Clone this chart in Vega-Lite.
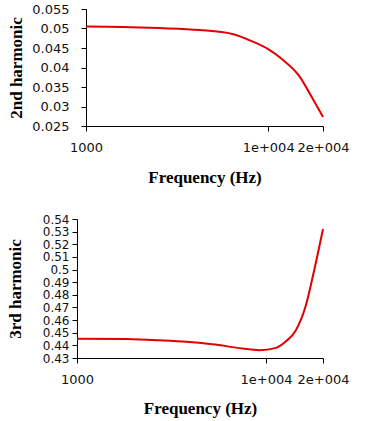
{
  "$schema": "https://vega.github.io/schema/vega-lite/v6.json",
  "padding": {"left": 6, "top": 3, "right": 10, "bottom": 5},
  "background": "white",
  "spacing": 28,
  "columns": 1,
  "align": "none",
  "bounds": "full",
  "datasets": {
    "h2": [
      {"freq": 1000, "value": 0.0505},
      {"freq": 1592, "value": 0.0504},
      {"freq": 2537, "value": 0.0501},
      {"freq": 4198, "value": 0.0496},
      {"freq": 6357, "value": 0.0486},
      {"freq": 8180, "value": 0.0467},
      {"freq": 10000, "value": 0.0447},
      {"freq": 11940, "value": 0.0421},
      {"freq": 14760, "value": 0.0379},
      {"freq": 17400, "value": 0.0323},
      {"freq": 20000, "value": 0.0273}
    ],
    "h3": [
      {"freq": 1000, "value": 0.4453},
      {"freq": 1833, "value": 0.4450},
      {"freq": 2735, "value": 0.4440},
      {"freq": 3793, "value": 0.4428},
      {"freq": 5196, "value": 0.4408},
      {"freq": 7477, "value": 0.4376},
      {"freq": 9190, "value": 0.4362},
      {"freq": 11290, "value": 0.4380},
      {"freq": 12740, "value": 0.4432},
      {"freq": 14380, "value": 0.4520},
      {"freq": 16240, "value": 0.4718},
      {"freq": 17890, "value": 0.4983},
      {"freq": 20000, "value": 0.5321}
    ]
  },
  "config": {
    "view": {"stroke": null},
    "axis": {
      "grid": false,
      "domainColor": "black",
      "tickColor": "black",
      "labelColor": "#111",
      "labelFont": "DejaVu Sans",
      "labelFontSize": 13,
      "titleFont": "Liberation Serif",
      "titleFontSize": 17,
      "titleFontWeight": "bold",
      "titleColor": "black",
      "tickSize": 5,
      "labelFlush": false,
      "labelBound": false,
      "labelOverlap": false
    }
  },
  "concat": [
    {
      "width": 237,
      "height": 117,
      "data": {"name": "h2"},
      "mark": {"type": "line", "color": "#e00000", "strokeWidth": 2, "interpolate": "monotone"},
      "encoding": {
        "x": {
          "field": "freq", "type": "quantitative",
          "scale": {"type": "log", "domain": [1000, 20000], "nice": false},
          "axis": {
            "title": "Frequency (Hz)",
            "values": [1000, 10000, 20000],
            "labelExpr": "datum.value == 1000 ? '1000' : datum.value == 10000 ? '1e+004' : '2e+004'",
            "labelPadding": 10,
            "titlePadding": 15
          }
        },
        "y": {
          "field": "value", "type": "quantitative",
          "scale": {"domain": [0.025, 0.055], "nice": false, "zero": false},
          "axis": {
            "title": "2nd harmonic",
            "values": [0.025, 0.03, 0.035, 0.04, 0.045, 0.05, 0.055],
            "format": ".3~f",
            "labelPadding": 12,
            "titlePadding": 6
          }
        }
      }
    },
    {
      "width": 237,
      "height": 139,
      "data": {"name": "h3"},
      "mark": {"type": "line", "color": "#e00000", "strokeWidth": 2, "interpolate": "monotone", "clip": false},
      "encoding": {
        "x": {
          "field": "freq", "type": "quantitative",
          "scale": {"type": "log", "domain": [1000, 20000], "nice": false, "range": [-9, 237]},
          "axis": {
            "title": "Frequency (Hz)",
            "values": [1000, 10000, 20000],
            "labelExpr": "datum.value == 1000 ? '1000' : datum.value == 10000 ? '1e+004' : '2e+004'",
            "labelPadding": 10,
            "titlePadding": 14
          }
        },
        "y": {
          "field": "value", "type": "quantitative",
          "scale": {"domain": [0.43, 0.54], "nice": false, "zero": false},
          "axis": {
            "title": "3rd harmonic",
            "values": [0.43, 0.44, 0.45, 0.46, 0.47, 0.48, 0.49, 0.5, 0.51, 0.52, 0.53, 0.54],
            "format": ".2~f",
            "labelFontSize": 12,
            "labelPadding": 3,
            "titlePadding": 18,
            "offset": 9
          }
        }
      }
    }
  ]
}
